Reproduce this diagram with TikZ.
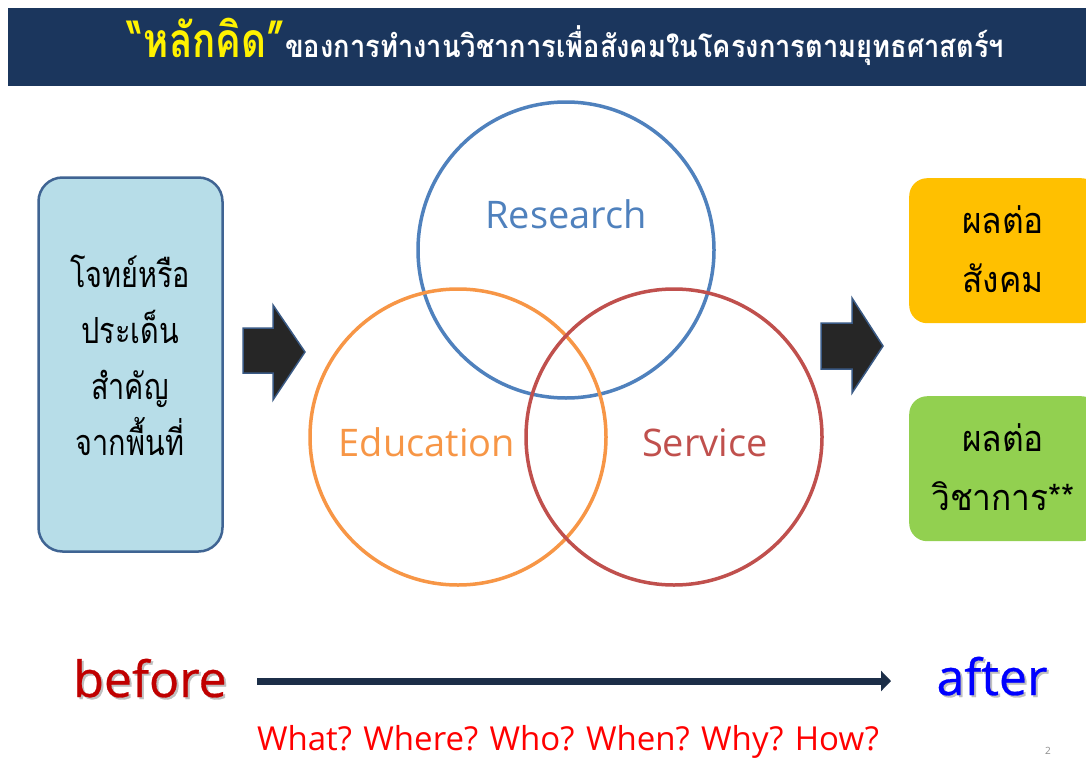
\documentclass[tikz,border=0pt]{standalone}
\usepackage{fontspec}
\setmainfont{Open Sans}
\newfontfamily\thaiL[Script=Thai, FakeStretch=0.80]{Loma}
\newfontfamily\thaiR[Script=Thai, FakeStretch=0.93]{Loma}
\newfontfamily\thaiY[Script=Thai, FakeStretch=0.80]{Loma}
\newfontfamily\thaiW[Script=Thai, FakeStretch=0.88]{Loma}
\newfontfamily\bigsans[FakeBold=0.6]{Open Sans}
\usetikzlibrary{arrows.meta}
\definecolor{navy}{HTML}{1B365D}
\definecolor{boxblue}{HTML}{B7DDE8}
\definecolor{boxedge}{HTML}{3F6493}
\definecolor{resblue}{HTML}{4F81BD}
\definecolor{eduorange}{HTML}{F79646}
\definecolor{serred}{HTML}{C0504D}
\definecolor{outorange}{HTML}{FFC000}
\definecolor{outgreen}{HTML}{92D050}
\definecolor{arrowdark}{HTML}{262626}
\definecolor{arrowedge}{HTML}{3A5A85}
\definecolor{linenavy}{HTML}{1C2E48}
\definecolor{beforered}{HTML}{C00000}
\tikzset{
  ring/.style={circle, line width=3.5pt, minimum size=296pt, inner sep=0pt},
  ringlabel/.style={font=\fontsize{38}{40}\selectfont, anchor=base, inner sep=0pt},
  thaileft/.style={align=center, font=\thaiL\fontsize{36}{56}\selectfont, text=black},
  thairight/.style={align=center, font=\thaiR\fontsize{36}{59}\selectfont, text=black},
  outbox/.style={rounded corners=18pt, minimum width=190pt, minimum height=145pt, inner sep=0pt},
  blockarrow/.style={fill=arrowdark, draw=arrowedge, line width=1.5pt, line join=miter},
  bigword/.style={font=\bigsans\fontsize{50}{52}\selectfont, anchor=base, inner sep=0pt},
}
\begin{document}
\begin{tikzpicture}[x=1pt,y=-1pt]
\useasboundingbox (0,0) rectangle (1086,760);
\fill[white] (0,0) rectangle (1086,760);
% title bar
\node[fill=navy, minimum width=1078pt, minimum height=78pt, inner sep=0pt, anchor=north west] (bar) at (8,8) {};
\node[anchor=base, inner sep=0pt] (title) at (566,57) {{\thaiY\bfseries\color{yellow}\fontsize{48}{50}\selectfont “หลักคิด”}{\thaiW\bfseries\color{white}\fontsize{31}{34}\selectfont ของการทำงานวิชาการเพื่อสังคมในโครงการตามยุทธศาสตร์ฯ}};
% left box
\node[fill=boxblue, draw=boxedge, line width=2.5pt, rounded corners=24pt, minimum width=184pt, minimum height=374pt, inner sep=0pt] (src) at (130.5,364.5) {};
\node[thaileft] (srctext) at (130,355) {โจทย์หรือ\\ประเด็น\\สำคัญ\\จากพื้นที่};
% left block arrow
\coordinate (la1) at (243,328);
\coordinate (la2) at (273,328);
\coordinate (la3) at (273,305);
\coordinate (la4) at (305,352);
\coordinate (la5) at (273,400);
\coordinate (la6) at (273,373);
\coordinate (la7) at (243,373);
\draw[blockarrow] (la1) -- (la2) -- (la3) -- (la4) -- (la5) -- (la6) -- (la7) -- cycle;
% circles
\node[ring, draw=resblue] (res) at (566,250) {};
\node[ring, draw=eduorange] (edu) at (458,437) {};
\node[ring, draw=serred] (ser) at (674,437) {};
\node[ringlabel, text=resblue] (reslabel) at (566,228) {Research};
\node[ringlabel, text=eduorange] (edulabel) at (427,456) {Education};
\node[ringlabel, text=serred] (serlabel) at (705,456) {Service};
% right block arrow
\coordinate (ra1) at (821,323);
\coordinate (ra2) at (852,323);
\coordinate (ra3) at (852,298);
\coordinate (ra4) at (883,346);
\coordinate (ra5) at (852,393);
\coordinate (ra6) at (852,369);
\coordinate (ra7) at (821,369);
\draw[blockarrow] (ra1) -- (ra2) -- (ra3) -- (ra4) -- (ra5) -- (ra6) -- (ra7) -- cycle;
% right boxes
\node[outbox, fill=outorange, anchor=north west] (soc) at (909,178) {};
\node[thairight] (soctext) at (1003,249) {ผลต่อ\\สังคม};
\node[outbox, fill=outgreen, anchor=north west] (aca) at (909,396) {};
\node[thairight] (acatext) at (1003,467) {ผลต่อ\\วิชาการ**};
% before / after
\node[bigword, text=black!25] (beforeshadow) at (152,699) {before};
\node[bigword, text=beforered] (before) at (150,697) {before};
\node[bigword, text=black!25] (aftershadow) at (994,697) {after};
\node[bigword, text=blue] (after) at (992,695) {after};
\coordinate (tl1) at (257,681);
\coordinate (tl2) at (891,681);
\draw[linenavy, line width=7pt, -{Triangle[length=10pt,width=20pt]}] (tl1) -- (tl2);
\node[text=red, font=\fontsize{33}{36}\selectfont, anchor=base, inner sep=0pt] (questions) at (568,750) {What? Where? Who? When? Why? How?};
\node[text=black!45, font=\fontsize{10}{12}\selectfont] (pagenum) at (1048,751) {2};
\end{tikzpicture}
\end{document}
